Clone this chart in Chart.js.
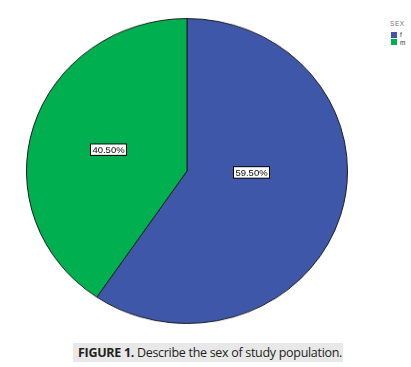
<!DOCTYPE html>
<html>
<head>
<meta charset="utf-8">
<script src="https://cdn.jsdelivr.net/npm/chart.js@4"></script>
<style>
  body { margin: 0; background: #fff; font-family: "Liberation Sans", Arial, sans-serif; }
  .figura { position: relative; width: 411px; height: 367px; overflow: hidden; }
  .pizza { position: absolute; left: 26px; top: 10px; width: 322px; height: 322px; transform: scaleY(0.95); transform-origin: 50% 50%; }
  .legenda { position: absolute; left: 390px; top: 20px; font-size: 6.5px; color: #555; }
  .legenda .titulo { letter-spacing: 0.6px; margin-bottom: 4px; color: #777; line-height: 7px; }
  .legenda .item { display: flex; align-items: center; height: 7px; margin-bottom: 0.5px; }
  .legenda .cor { width: 6px; height: 6px; margin-right: 3px; margin-left: 1px; }
  .legenda .nome { font-size: 6.5px; color: #333; }
  .legenda-fig { position: absolute; left: 73px; top: 343px; width: 270px; height: 19px; background: #e8e8e8;
    font-family: "Open Sans", "Noto Sans", sans-serif; font-size: 12.5px; line-height: 19px; color: #231f20;
    box-sizing: border-box; padding-left: 5px; white-space: nowrap; letter-spacing: -0.3px; }
  .legenda-fig b { font-weight: 700; }
</style>
</head>
<body>
<div class="figura">
  <div class="pizza"><canvas id="graficoSexo"></canvas></div>
  <div class="legenda" id="legenda"></div>
  <div class="legenda-fig"><b>FIGURE 1.</b> Describe the sex of study population.</div>
</div>
<script>
// ----- Dados -----
const categorias = ['f', 'm'];
const percentuais = [59.5, 40.5];
const rotulos = ['59.50%', '40.50%'];
const cores = ['#3F57A8', '#00B050'];
const tituloLegenda = 'SEX';

// legenda no canto
const legenda = document.getElementById('legenda');
legenda.innerHTML = `<div class="titulo">${tituloLegenda}</div>`;
categorias.forEach((cat, i) => {
  const item = document.createElement('div');
  item.classList.add('item');
  item.innerHTML = `<div class="cor" style="background:${cores[i]}"></div><span class="nome">${cat}</span>`;
  legenda.appendChild(item);
});

// rótulos em caixa branca, estilo SPSS
const rotulosPlugin = {
  id: 'rotulosCaixa',
  afterDatasetsDraw(chart, args, opts) {
    const ctx = chart.ctx;
    const meta = chart.getDatasetMeta(0);
    ctx.save();
    ctx.font = '9.5px "Liberation Sans", Arial, sans-serif';
    ctx.textAlign = 'center';
    ctx.textBaseline = 'middle';
    meta.data.forEach((arc, i) => {
      const p = arc.getProps(['x', 'y', 'startAngle', 'endAngle', 'outerRadius'], true);
      const ang = (p.startAngle + p.endAngle) / 2 + opts.desvio[i] * Math.PI / 180;
      const r = p.outerRadius * opts.fracao[i];
      const x = p.x + Math.cos(ang) * r;
      const y = p.y + Math.sin(ang) * r;
      const texto = rotulos[i];
      const w = ctx.measureText(texto).width + 4;
      const h = 12;
      ctx.fillStyle = '#fff';
      ctx.fillRect(Math.round(x - w / 2) + 0.5, Math.round(y - h / 2) + 0.5, Math.round(w), h);
      ctx.strokeStyle = '#000';
      ctx.lineWidth = 1;
      ctx.strokeRect(Math.round(x - w / 2) + 0.5, Math.round(y - h / 2) + 0.5, Math.round(w), h);
      ctx.fillStyle = '#000';
      ctx.fillText(texto, Math.round(x) + 0.5, Math.round(y) + 1);
    });
    ctx.restore();
  }
};

new Chart(document.getElementById('graficoSexo'), {
  type: 'pie',
  data: {
    labels: categorias,
    datasets: [{
      data: percentuais,
      backgroundColor: cores,
      borderColor: '#1c1c1c',
      borderWidth: 1
    }]
  },
  options: {
    responsive: true,
    maintainAspectRatio: false,
    animation: false,
    layout: { padding: 0 },
    plugins: {
      legend: { display: false },
      tooltip: { enabled: false },
      rotulosCaixa: { fracao: [0.4, 0.51], desvio: [-16, -1] }
    }
  },
  plugins: [rotulosPlugin]
});
</script>
</body>
</html>
